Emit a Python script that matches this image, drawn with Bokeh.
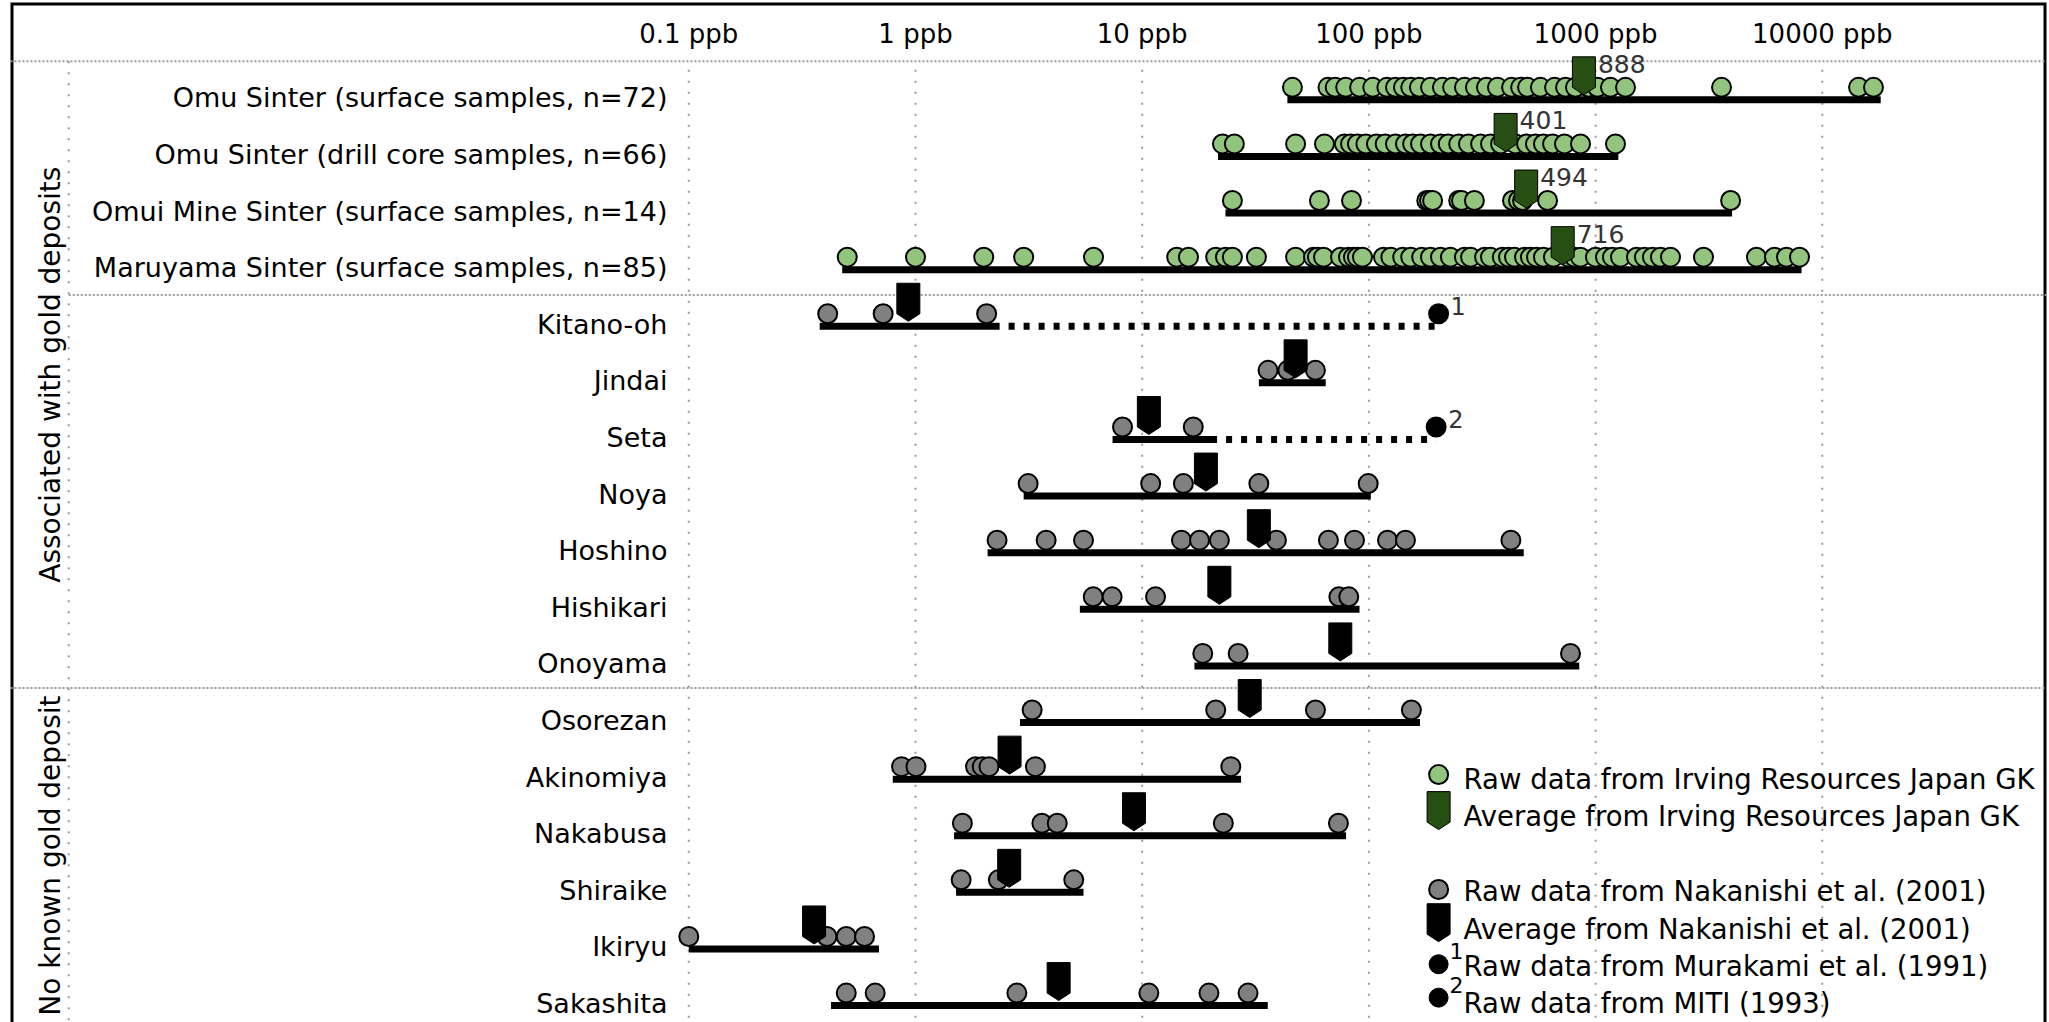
import numpy as np
from bokeh.plotting import figure
from bokeh.models import Range1d, ColumnDataSource
from bokeh.transform import dodge
from bokeh.core.properties import value
from bokeh.embed import file_html
from bokeh.resources import INLINE

# ---------------- data ----------------
rows = [
    "Omu Sinter (surface samples, n=72)",
    "Omu Sinter (drill core samples, n=66)",
    "Omui Mine Sinter (surface samples, n=14)",
    "Maruyama Sinter (surface samples, n=85)",
    "Kitano-oh", "Jindai", "Seta", "Noya", "Hoshino", "Hishikari", "Onoyama",
    "Osorezan", "Akinomiya", "Nakabusa", "Shiraike", "Ikiryu", "Sakashita",
]
groups = ["Associated with gold deposits", "No known gold deposit"]

tick_values = [0.1, 1, 10, 100, 1000, 10000]
tick_labels = ["0.1 ppb", "1 ppb", "10 ppb", "100 ppb", "1000 ppb", "10000 ppb"]

# Irving Resources Japan GK raw data (ppb)
omu_surface = [46, 66, 71, 79, 91, 104, 120, 131, 142, 153, 167, 187, 211, 234, 264, 295,
               330, 369, 426, 467, 501, 571, 659, 737, 815, 931, 1020, 1163, 1355, 3593,
               14450, 16820]
omu_drill = [22.6, 25.5, 47.5, 63.7, 78, 83, 89, 97, 108, 118, 131, 145, 156, 169, 187, 207,
             224, 249, 275, 311, 344, 381, 443, 496, 543, 589, 646, 729, 858, 1224]
omui_mine = [25, 60.5, 83.8, 180, 185, 191, 249, 256, 292, 430, 457, 476, 614, 3940]
maruyama = [0.5, 1.0, 2.0, 3.0, 6.1, 14.2, 16.0, 21.1, 23.3, 25.0, 31.9, 47.5, 57, 59.3, 63.1,
            75, 81.3, 85.5, 89, 93.7, 116, 125, 141, 153, 171, 187, 207, 229, 264, 281, 324,
            344, 388, 413, 439, 486, 516, 549, 589, 652, 760, 807, 858, 999, 1106, 1187, 1288,
            1515, 1643, 1782, 1933, 2140, 2992, 5125, 6154, 6953, 7933]
irving_raw = [omu_surface, omu_drill, omui_mine, maruyama]
irving_avg = [888, 401, 494, 716]

# Nakanishi et al. (2001) raw data (ppb)
kitano_oh = [0.41, 0.72, 2.06]
jindai = [35.9, 43.9, 58.1]
seta = [8.19, 16.8]
noya = [3.14, 10.9, 15.2, 32.7, 99.3]
hoshino = [2.29, 3.77, 5.51, 14.9, 17.9, 21.9, 39.1, 66.3, 86.4, 120.8, 145, 423]
hishikari = [6.08, 7.37, 11.45, 73.7, 81.5]
onoyama = [18.5, 26.5, 775]
osorezan = [3.27, 21.1, 58.1, 154]
akinomiya = [0.868, 1.005, 1.84, 1.97, 2.11, 3.38, 24.6]
nakabusa = [1.61, 3.61, 4.22, 22.8, 73.4]
shiraike = [1.59, 2.32, 4.99]
ikiryu = [0.10, 0.407, 0.495, 0.596]
sakashita = [0.495, 0.664, 2.80, 10.7, 19.7, 29.3]
nakanishi_raw = [kitano_oh, jindai, seta, noya, hoshino, hishikari, onoyama, osorezan,
                 akinomiya, nakabusa, shiraike, ikiryu, sakashita]
nakanishi_avg = [0.93, 47.5, 10.7, 19.1, 32.7, 21.9, 74.8, 29.8, 2.60, 9.20, 2.59, 0.357, 4.28]

# range bars (ppb)
range_low = [43.7, 21.6, 23.3, 0.475, 0.378, 32.7, 7.40, 3.00, 2.08, 5.31, 17.0, 2.89,
             0.794, 1.48, 1.51, 0.10, 0.424]
range_high = [18100, 1260, 4000, 8100, 2.35, 64.5, 21.4, 102, 482, 90.9, 847, 168,
              27.3, 79.3, 5.51, 0.690, 35.8]

# other sources (Murakami et al. 1991 -> 1 ; MITI 1993 -> 2)
extra_rows = ["Kitano-oh", "Seta"]
extra_values = [203, 198]
extra_notes = ["1", "2"]

legend_labels = [
    "Raw data from Irving Resources Japan GK",
    "Average from Irving Resources Japan GK",
    "Raw data from Nakanishi et al. (2001)",
    "Average from Nakanishi et al. (2001)",
    "Raw data from Murakami et al. (1991)",
    "Raw data from MITI (1993)",
]

# ---------------- style / layout ----------------
GREEN = "#93c47d"
DARK_GREEN = "#274e13"
GRAY = "#808080"
FONT = value("DejaVu Sans")
GRID_COLOR = "#9a9a9a"

PX_PER_DEC = 226.7
PX_PER_ROW = 56.61
X_START, X_END = 10 ** -3.992, 10 ** 4.989
Y_TOP, Y_BOTTOM = -1.719, 16.299
HEADER_Y = -0.68
GROUP_SEP = 10.39
SOURCE_SEP = 3.45
TICK_LABEL_Y = -1.171
LABEL_X = 0.0805
GROUP_X = 1.53e-4
DIVIDER_X = 1.84e-4
LEGEND_X = 203
LEGEND_Y = [12.0, 12.66, 13.98, 14.64, 15.30, 15.96]

CIRCLE_DY = -12.5 / PX_PER_ROW
FLAG_HALF = 11.5 / PX_PER_DEC
FLAG_TOP = -43 / PX_PER_ROW
FLAG_SHOULDER = -12.5 / PX_PER_ROW
FLAG_TIP = -5 / PX_PER_ROW


def flag(xv, yb):
    k = 10 ** FLAG_HALF
    return ([xv / k, xv * k, xv * k, xv, xv / k],
            [yb + FLAG_TOP, yb + FLAG_TOP, yb + FLAG_SHOULDER, yb + FLAG_TIP, yb + FLAG_SHOULDER])


row_idx = {r: i for i, r in enumerate(rows)}
row_pos = list(range(len(rows)))

p = figure(width=2049, height=1022, x_axis_type="log",
           x_range=Range1d(X_START, X_END), y_range=Range1d(Y_BOTTOM, Y_TOP),
           x_axis_location=None, y_axis_location=None,
           toolbar_location=None, output_backend="svg",
           min_border_left=10, min_border_right=3, min_border_top=2, min_border_bottom=0)
p.grid.visible = False
p.outline_line_color = None
p.background_fill_color = "white"
p.border_fill_color = "white"

# outer border (its bottom edge lies below the visible area)
p.quad(left=[X_START], right=[X_END], top=[Y_TOP], bottom=[Y_BOTTOM + 3],
       fill_color=None, line_color="black", line_width=6)

# separators
p.segment(x0=[X_START, DIVIDER_X, X_START], y0=[HEADER_Y, SOURCE_SEP, GROUP_SEP],
          x1=[X_END] * 3, y1=[HEADER_Y, SOURCE_SEP, GROUP_SEP],
          line_color=GRID_COLOR, line_width=2, line_dash="2 2")
p.segment(x0=[DIVIDER_X], y0=[HEADER_Y], x1=[DIVIDER_X], y1=[Y_BOTTOM],
          line_color=GRID_COLOR, line_width=2, line_dash="2 9")
# vertical grid lines at ticks
p.segment(x0=tick_values, y0=[HEADER_Y + 0.15] * len(tick_values), x1=tick_values,
          y1=[Y_BOTTOM] * len(tick_values), line_color=GRID_COLOR, line_width=2, line_dash="2 9")

# header tick labels
p.text(x=tick_values, y=[TICK_LABEL_Y] * len(tick_values), text=tick_labels, text_align="center",
       text_baseline="middle", text_font=FONT, text_font_size="26px", text_color="black")

# row labels
p.text(x=[LABEL_X] * len(rows), y=row_pos, text=rows, text_align="right", y_offset=-2,
       text_baseline="middle", text_font=FONT, text_font_size="27px", text_color="black")

# group labels
g_mid = [(HEADER_Y + GROUP_SEP) / 2, 13.35]
p.text(x=[GROUP_X] * 2, y=g_mid, text=groups, angle=np.pi / 2, text_align="center",
       text_baseline="middle", text_font=FONT, text_font_size="28px", text_color="black")

# range bars
p.segment(x0=range_low, y0=row_pos, x1=range_high, y1=row_pos,
          line_color="black", line_width=7, line_cap="butt")
# dotted extension to other-source values
ex_rows = [row_idx[r] for r in extra_rows]
p.segment(x0=[range_high[i] for i in ex_rows], y0=ex_rows, x1=extra_values, y1=ex_rows,
          line_color="black", line_width=7, line_dash="6 9", line_dash_offset=6)

# raw data circles
irv_x, irv_y = [], []
for i, vals in enumerate(irving_raw):
    irv_x += vals
    irv_y += [i] * len(vals)
nak_x, nak_y = [], []
for j, vals in enumerate(nakanishi_raw):
    nak_x += vals
    nak_y += [j + 4] * len(vals)

src_irv = ColumnDataSource(dict(x=irv_x, row=irv_y))
src_nak = ColumnDataSource(dict(x=nak_x, row=nak_y))
src_ext = ColumnDataSource(dict(x=extra_values, row=ex_rows, note=extra_notes))

p.scatter("x", dodge("row", CIRCLE_DY, range=p.y_range), source=src_irv, size=19,
          fill_color=GREEN, line_color="black", line_width=2)
p.scatter("x", dodge("row", CIRCLE_DY, range=p.y_range), source=src_nak, size=19,
          fill_color=GRAY, line_color="black", line_width=2)
p.scatter("x", dodge("row", CIRCLE_DY, range=p.y_range), source=src_ext, size=19,
          fill_color="black", line_color="black", line_width=2)
p.text("x", "row", text="note", source=src_ext, x_offset=12, y_offset=-20,
       text_baseline="middle", text_align="left", text_font=FONT, text_font_size="24px",
       text_color="#333333")

# averages (flags)
fx, fy = [], []
for i, v in enumerate(irving_avg):
    a, b = flag(v, i)
    fx.append(a); fy.append(b)
p.patches(fx, fy, fill_color=DARK_GREEN, line_color="black", line_width=1)
bx, by = [], []
for j, v in enumerate(nakanishi_avg):
    a, b = flag(v, j + 4)
    bx.append(a); by.append(b)
p.patches(bx, by, fill_color="black", line_color="black", line_width=1)

p.text(x=irving_avg, y=list(range(len(irving_avg))), text=[str(v) for v in irving_avg],
       x_offset=14, y_offset=-36, text_baseline="middle", text_align="left",
       text_font=FONT, text_font_size="25px", text_color="#333333")

# ---------------- legend ----------------
lx = LEGEND_X
p.scatter([lx], [LEGEND_Y[0] - 0.08], size=19, fill_color=GREEN, line_color="black", line_width=2)
a, b = flag(lx, LEGEND_Y[1] + 0.32)
p.patch(a, b, fill_color=DARK_GREEN, line_color="black", line_width=1)
p.scatter([lx], [LEGEND_Y[2] - 0.03], size=19, fill_color=GRAY, line_color="black", line_width=2)
a, b = flag(lx, LEGEND_Y[3] + 0.32)
p.patch(a, b, fill_color="black", line_color="black", line_width=1)
p.scatter([lx, lx], [LEGEND_Y[4] - 0.03, LEGEND_Y[5] - 0.1], size=19, fill_color="black",
          line_color="black", line_width=1)
p.text(x=[lx, lx], y=[LEGEND_Y[4] - 0.03, LEGEND_Y[5] - 0.1], text=extra_notes, x_offset=11,
       y_offset=-13, text_baseline="middle", text_align="left", text_font=FONT,
       text_font_size="22px", text_color="black")
p.text(x=[lx] * len(legend_labels), y=LEGEND_Y, text=legend_labels, x_offset=25,
       text_baseline="middle", text_align="left", text_font=FONT, text_font_size="27.5px",
       text_color="black")

open("out.html", "w").write(file_html(p, INLINE))
